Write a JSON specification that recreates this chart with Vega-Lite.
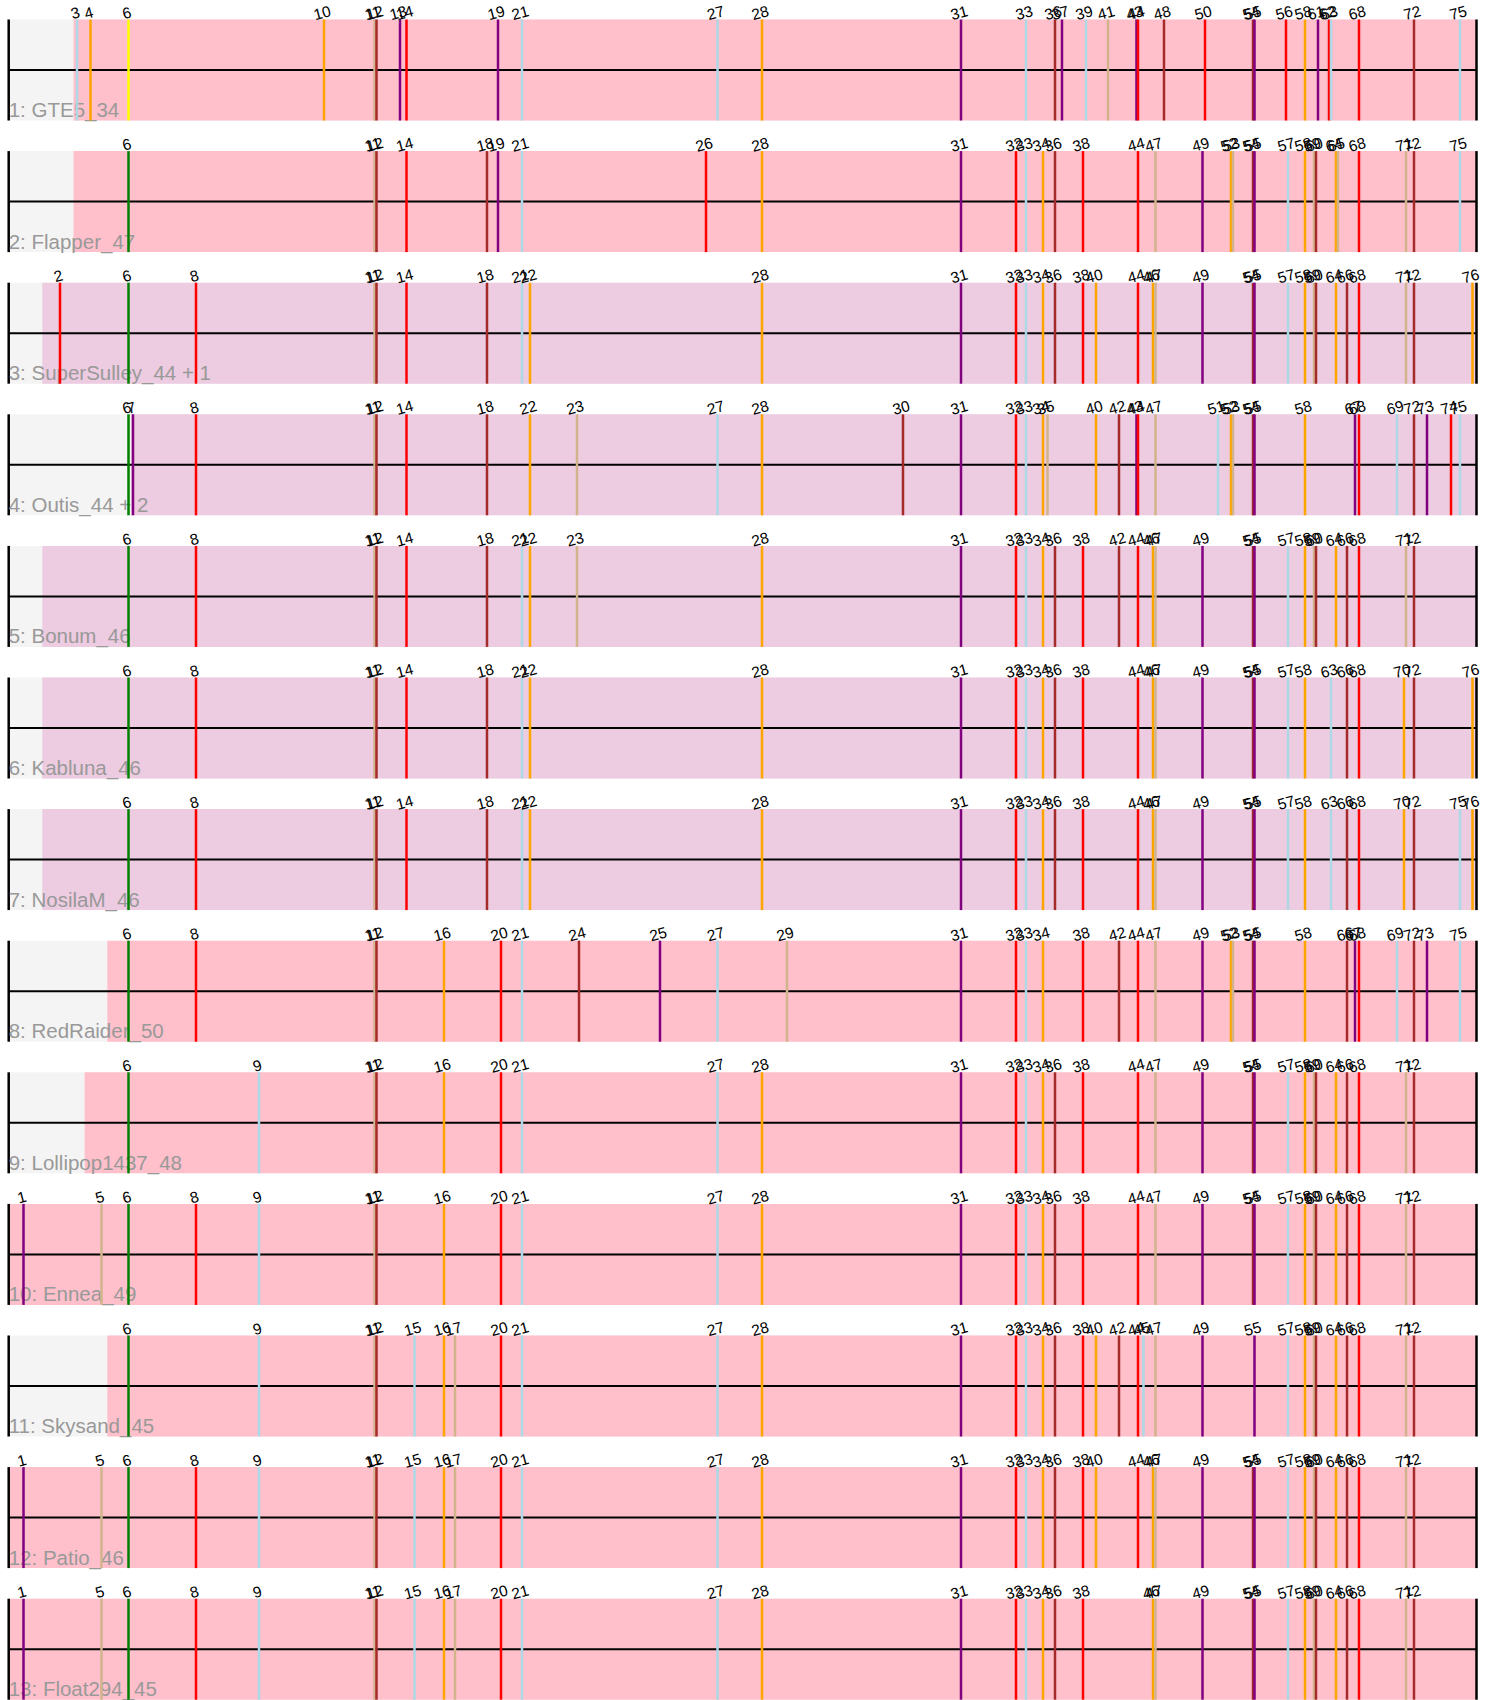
{
  "$schema": "https://vega.github.io/schema/vega-lite/v6.json",
  "width": 1494,
  "height": 1700,
  "autosize": {"type": "none"},
  "padding": 0,
  "background": "white",
  "config": {"view": {"stroke": null}},
  "datasets": {
    "genes": [
      {"id":"1","label":"1","pos":23.5,"pham":"P"},
      {"id":"2","label":"2","pos":60,"pham":"R"},
      {"id":"3","label":"3","pos":77,"pham":"L"},
      {"id":"4","label":"4","pos":90.5,"pham":"O"},
      {"id":"5","label":"5","pos":101.5,"pham":"T"},
      {"id":"6","label":"6","pos":128.5,"pham":"G"},
      {"id":"6y","label":"6","pos":128.5,"pham":"Y"},
      {"id":"7","label":"7","pos":133,"pham":"P"},
      {"id":"8","label":"8","pos":196,"pham":"R"},
      {"id":"9","label":"9","pos":259,"pham":"L"},
      {"id":"10","label":"10","pos":324,"pham":"O"},
      {"id":"11","label":"11","pos":374.5,"pham":"T"},
      {"id":"12","label":"12","pos":376.5,"pham":"B"},
      {"id":"13","label":"13","pos":400,"pham":"P"},
      {"id":"14","label":"14","pos":406.5,"pham":"R"},
      {"id":"15","label":"15","pos":414.5,"pham":"L"},
      {"id":"16","label":"16","pos":444,"pham":"O"},
      {"id":"17","label":"17","pos":455,"pham":"T"},
      {"id":"18","label":"18","pos":487,"pham":"B"},
      {"id":"19","label":"19","pos":498,"pham":"P"},
      {"id":"20","label":"20","pos":501,"pham":"R"},
      {"id":"21","label":"21","pos":522,"pham":"L"},
      {"id":"22","label":"22","pos":530,"pham":"O"},
      {"id":"23","label":"23","pos":577,"pham":"T"},
      {"id":"24","label":"24","pos":579,"pham":"B"},
      {"id":"25","label":"25","pos":660,"pham":"P"},
      {"id":"26","label":"26","pos":706,"pham":"R"},
      {"id":"27","label":"27","pos":717.5,"pham":"L"},
      {"id":"28","label":"28","pos":762,"pham":"O"},
      {"id":"29","label":"29","pos":787,"pham":"T"},
      {"id":"30","label":"30","pos":903,"pham":"B"},
      {"id":"31","label":"31","pos":961,"pham":"P"},
      {"id":"32","label":"32","pos":1016,"pham":"R"},
      {"id":"33","label":"33","pos":1026,"pham":"L"},
      {"id":"34","label":"34","pos":1043,"pham":"O"},
      {"id":"35","label":"35","pos":1047.5,"pham":"T"},
      {"id":"36","label":"36","pos":1055,"pham":"B"},
      {"id":"37","label":"37","pos":1062,"pham":"P"},
      {"id":"38","label":"38","pos":1083,"pham":"R"},
      {"id":"39","label":"39","pos":1086,"pham":"L"},
      {"id":"40","label":"40","pos":1096,"pham":"O"},
      {"id":"41","label":"41","pos":1108,"pham":"T"},
      {"id":"42","label":"42","pos":1119,"pham":"B"},
      {"id":"43","label":"43","pos":1136.5,"pham":"P"},
      {"id":"44","label":"44","pos":1138,"pham":"R"},
      {"id":"45","label":"45","pos":1143.5,"pham":"L"},
      {"id":"46","label":"46","pos":1153,"pham":"O"},
      {"id":"47","label":"47","pos":1155.5,"pham":"T"},
      {"id":"48","label":"48","pos":1164,"pham":"B"},
      {"id":"49","label":"49","pos":1202.5,"pham":"P"},
      {"id":"50","label":"50","pos":1205,"pham":"R"},
      {"id":"51","label":"51","pos":1218,"pham":"L"},
      {"id":"52","label":"52","pos":1231,"pham":"O"},
      {"id":"53","label":"53","pos":1233,"pham":"T"},
      {"id":"54","label":"54","pos":1253,"pham":"B"},
      {"id":"55","label":"55","pos":1254.5,"pham":"P"},
      {"id":"56","label":"56","pos":1286,"pham":"R"},
      {"id":"57","label":"57","pos":1288,"pham":"L"},
      {"id":"58","label":"58","pos":1305,"pham":"O"},
      {"id":"59","label":"59","pos":1314,"pham":"T"},
      {"id":"60","label":"60","pos":1316,"pham":"B"},
      {"id":"61","label":"61","pos":1318,"pham":"P"},
      {"id":"62","label":"62","pos":1329,"pham":"R"},
      {"id":"63","label":"63","pos":1331,"pham":"L"},
      {"id":"64","label":"64","pos":1336,"pham":"O"},
      {"id":"65","label":"65","pos":1338,"pham":"T"},
      {"id":"66","label":"66","pos":1347,"pham":"B"},
      {"id":"67","label":"67","pos":1355,"pham":"P"},
      {"id":"68","label":"68","pos":1359,"pham":"R"},
      {"id":"69","label":"69","pos":1397,"pham":"L"},
      {"id":"70","label":"70","pos":1404,"pham":"O"},
      {"id":"71","label":"71","pos":1406,"pham":"T"},
      {"id":"72","label":"72","pos":1414,"pham":"B"},
      {"id":"73","label":"73","pos":1427,"pham":"P"},
      {"id":"74","label":"74","pos":1451,"pham":"R"},
      {"id":"75","label":"75","pos":1460,"pham":"L"},
      {"id":"76","label":"76","pos":1472.5,"pham":"O"}
    ],
    "genomes": [
      {"row":"1: GTE5_34","s":8.7,"e":1476.5,"p":73.5,"bg":"pink"},
      {"row":"2: Flapper_47","s":8.7,"e":1476.5,"p":73.5,"bg":"pink"},
      {"row":"3: SuperSulley_44 + 1","s":8.7,"e":1476.5,"p":42.3,"bg":"lav"},
      {"row":"4: Outis_44 + 2","s":8.7,"e":1476.5,"p":131,"bg":"lav"},
      {"row":"5: Bonum_46","s":8.7,"e":1476.5,"p":42.3,"bg":"lav"},
      {"row":"6: Kabluna_46","s":8.7,"e":1476.5,"p":42.3,"bg":"lav"},
      {"row":"7: NosilaM_46","s":8.7,"e":1476.5,"p":42.3,"bg":"lav"},
      {"row":"8: RedRaider_50","s":8.7,"e":1476.5,"p":107.3,"bg":"pink"},
      {"row":"9: Lollipop1437_48","s":8.7,"e":1476.5,"p":84.6,"bg":"pink"},
      {"row":"10: Ennea_49","s":8.7,"e":1476.5,"p":8.7,"bg":"pink"},
      {"row":"11: Skysand_45","s":8.7,"e":1476.5,"p":107.3,"bg":"pink"},
      {"row":"12: Patio_46","s":8.7,"e":1476.5,"p":8.7,"bg":"pink"},
      {"row":"13: Float294_45","s":8.7,"e":1476.5,"p":8.7,"bg":"pink"}
    ],
    "content": [
      {"row":"1: GTE5_34","g":["3","4","6y","10","11","12","13","14","19","21","27","28","31","33","36","37","39","41","43","44","48","50","54","55","56","58","61","62","63","68","72","75"]},
      {"row":"2: Flapper_47","g":["6","11","12","14","18","19","21","26","28","31","32","33","34","36","38","44","47","49","52","53","54","55","57","58","59","60","64","65","68","71","72","75"]},
      {"row":"3: SuperSulley_44 + 1","g":["2","6","8","11","12","14","18","21","22","28","31","32","33","34","36","38","40","44","46","47","49","54","55","57","58","59","60","64","66","68","71","72","76"]},
      {"row":"4: Outis_44 + 2","g":["6","7","8","11","12","14","18","22","23","27","28","30","31","32","33","34","35","40","42","43","44","47","51","52","53","54","55","58","67","68","69","72","73","74","75"]},
      {"row":"5: Bonum_46","g":["6","8","11","12","14","18","21","22","23","28","31","32","33","34","36","38","42","44","46","47","49","54","55","57","58","59","60","64","66","68","71","72"]},
      {"row":"6: Kabluna_46","g":["6","8","11","12","14","18","21","22","28","31","32","33","34","36","38","44","46","47","49","54","55","57","58","63","66","68","70","72","76"]},
      {"row":"7: NosilaM_46","g":["6","8","11","12","14","18","21","22","28","31","32","33","34","36","38","44","46","47","49","54","55","57","58","63","66","68","70","72","75","76"]},
      {"row":"8: RedRaider_50","g":["6","8","11","12","16","20","21","24","25","27","29","31","32","33","34","38","42","44","47","49","52","53","54","55","58","66","67","68","69","72","73","75"]},
      {"row":"9: Lollipop1437_48","g":["6","9","11","12","16","20","21","27","28","31","32","33","34","36","38","44","47","49","54","55","57","58","59","60","64","66","68","71","72"]},
      {"row":"10: Ennea_49","g":["1","5","6","8","9","11","12","16","20","21","27","28","31","32","33","34","36","38","44","47","49","54","55","57","58","59","60","64","66","68","71","72"]},
      {"row":"11: Skysand_45","g":["6","9","11","12","15","16","17","20","21","27","28","31","32","33","34","36","38","40","42","44","45","47","49","55","57","58","59","60","64","66","68","71","72"]},
      {"row":"12: Patio_46","g":["1","5","6","8","9","11","12","15","16","17","20","21","27","28","31","32","33","34","36","38","40","44","46","47","49","54","55","57","58","59","60","64","66","68","71","72"]},
      {"row":"13: Float294_45","g":["1","5","6","8","9","11","12","15","16","17","20","21","27","28","31","32","33","34","36","38","46","47","49","54","55","57","58","59","60","64","66","68","71","72"]}
    ]
  },
  "resolve": {"scale": {"color": "independent"}},
  "layer": [
    {
      "data": {"name": "genomes"},
      "layer": [
        {
          "mark": {"type": "rect", "fill": "#f4f4f4"},
          "encoding": {
            "x": {"field": "s", "type": "quantitative", "scale": {"domain": [0, 1494], "nice": false, "zero": false}, "axis": null},
            "x2": {"field": "e"},
            "y": {"field": "row", "type": "nominal", "sort": null, "axis": null,
                  "scale": {"type": "band", "range": [19.5, 1699.7], "paddingInner": 0.2325, "paddingOuter": 0}}
          }
        },
        {
          "mark": {"type": "rect"},
          "encoding": {
            "x": {"field": "p", "type": "quantitative"},
            "x2": {"field": "e"},
            "y": {"field": "row", "type": "nominal", "sort": null},
            "fill": {"field": "bg", "type": "nominal", "legend": null,
                     "scale": {"domain": ["pink", "lav"], "range": ["#ffc0cb", "#edcbe0"]}}
          }
        },
        {
          "mark": {"type": "rule", "color": "black", "strokeWidth": 2},
          "encoding": {
            "x": {"field": "s", "type": "quantitative"},
            "x2": {"field": "e"},
            "y": {"field": "row", "type": "nominal", "sort": null}
          }
        },
        {
          "mark": {"type": "tick", "color": "black", "thickness": 2.5, "size": 101, "opacity": 1},
          "encoding": {
            "x": {"field": "s", "type": "quantitative"},
            "y": {"field": "row", "type": "nominal", "sort": null}
          }
        },
        {
          "mark": {"type": "tick", "color": "black", "thickness": 2.5, "size": 101, "opacity": 1},
          "encoding": {
            "x": {"field": "e", "type": "quantitative"},
            "y": {"field": "row", "type": "nominal", "sort": null}
          }
        },
        {
          "mark": {"type": "text", "align": "left", "baseline": "alphabetic", "dy": 47, "fontSize": 20.5, "font": "Liberation Sans", "color": "#999999"},
          "encoding": {
            "x": {"field": "s", "type": "quantitative"},
            "y": {"field": "row", "type": "nominal", "sort": null},
            "text": {"field": "row"}
          }
        }
      ]
    },
    {
      "data": {"name": "content"},
      "transform": [
        {"flatten": ["g"]},
        {"lookup": "g", "from": {"data": {"name": "genes"}, "key": "id", "fields": ["label", "pos", "pham"]}}
      ],
      "layer": [
        {
          "mark": {"type": "tick", "thickness": 2.5, "size": 101, "opacity": 1},
          "encoding": {
            "x": {"field": "pos", "type": "quantitative"},
            "y": {"field": "row", "type": "nominal", "sort": null},
            "color": {"field": "pham", "type": "nominal", "legend": null,
                      "scale": {"domain": ["P", "R", "L", "O", "T", "B", "G", "Y"],
                                "range": ["#800080", "#ff0000", "#add8e6", "#ffa500", "#d2b48c", "#a52a2a", "#008000", "#ffff00"]}}
          }
        },
        {
          "mark": {"type": "text", "align": "center", "baseline": "alphabetic", "angle": 345, "dy": -1.5, "fontSize": 15.5, "font": "Liberation Sans", "color": "black"},
          "encoding": {
            "x": {"field": "pos", "type": "quantitative"},
            "y": {"field": "row", "type": "nominal", "sort": null, "bandPosition": 0},
            "text": {"field": "label"}
          }
        }
      ]
    }
  ]
}
